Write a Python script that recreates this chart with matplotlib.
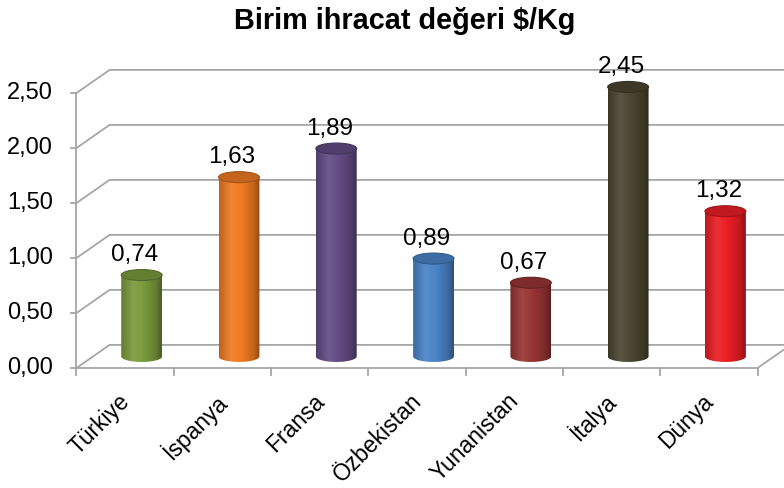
import numpy as np
import matplotlib
matplotlib.use("Agg")
import matplotlib.pyplot as plt
from matplotlib.colors import LinearSegmentedColormap, to_rgb
from matplotlib.patches import Ellipse, PathPatch
from matplotlib.path import Path

plt.rcParams["font.family"] = ["Liberation Sans", "DejaVu Sans"]

countries = ["Türkiye", "İspanya", "Fransa", "Özbekistan", "Yunanistan", "İtalya", "Dünya"]
values = [0.74, 1.63, 1.89, 0.89, 0.67, 2.45, 1.32]
value_labels = ["0,74", "1,63", "1,89", "0,89", "0,67", "2,45", "1,32"]
colors = ["#7a9b3c", "#f07a22", "#634c84", "#4a84c8", "#983434", "#4b4630", "#ea1e24"]
yticks = [0, 0.5, 1.0, 1.5, 2.0, 2.5]
ytick_labels = ["0,00", "0,50", "1,00", "1,50", "2,00", "2,50"]
title = "Birim ihracat değeri $/Kg"

# depth offset of the back wall, in data units
DX, DY = 0.34, 0.21
GRID = "#a6a6a6"


def shade(c, f):
    r, g, b = to_rgb(c)
    if f < 1:
        return (r * f, g * f, b * f)
    f = f - 1
    return (r + (1 - r) * f, g + (1 - g) * f, b + (1 - b) * f)


def cylinder(ax, cx, y0, h, color, w=0.21, e=0.05):
    t = np.linspace(np.pi, 2 * np.pi, 60)
    bottom = np.column_stack([cx + w * np.cos(t), y0 + e * np.sin(t)])
    verts = np.vstack([[cx - w, y0 + h], bottom, [cx + w, y0 + h], [cx - w, y0 + h]])
    codes = [Path.MOVETO] + [Path.LINETO] * (len(verts) - 2) + [Path.CLOSEPOLY]
    body = PathPatch(Path(verts, codes), facecolor="none", edgecolor="none")
    ax.add_patch(body)
    cmap = LinearSegmentedColormap.from_list(
        "cyl", [(0, shade(color, 0.8)), (0.3, shade(color, 1.08)),
                (0.55, shade(color, 1.0)), (0.85, shade(color, 0.82)), (1, shade(color, 0.6))])
    grad = np.linspace(0, 1, 256).reshape(1, -1)
    im = ax.imshow(grad, cmap=cmap, extent=[cx - w, cx + w, y0 - e, y0 + h],
                   aspect="auto", interpolation="bilinear", zorder=3)
    im.set_clip_path(body)
    ax.add_patch(Ellipse((cx, y0 + h), 2 * w, 2 * e, facecolor=shade(color, 0.82),
                         edgecolor=shade(color, 0.68), lw=0.8, zorder=4))


fig = plt.figure(figsize=(7.84, 4.88), dpi=100)
ax = fig.add_axes([0, 0, 1, 1])
ax.axis("off")

n = len(countries)
# walls and gridlines
for v in yticks:
    ax.plot([0, DX, n + DX + 0.5], [v, v + DY, v + DY], color=GRID, lw=1.3, zorder=1)
    ax.plot([-0.06, 0], [v, v], color=GRID, lw=1.3, zorder=1)
ax.plot([0, 0], [0, yticks[-1]], color=GRID, lw=1.3, zorder=1)
ax.plot([0, n, n + DX], [0, 0, DY], color=GRID, lw=1.3, zorder=2)
for i in range(n + 1):
    ax.plot([i, i], [0, -0.06], color=GRID, lw=1.3, zorder=1)

for v, lab in zip(yticks, ytick_labels):
    ax.text(-0.245, v, lab, ha="right", va="center", fontsize=17)

for i, (v, c, lab, name) in enumerate(zip(values, colors, value_labels, countries)):
    cx = i + 0.5 + DX / 2
    cylinder(ax, cx, DY / 2, v, c)
    ax.text(cx - 0.07, DY / 2 + v + 0.18, lab, ha="center", va="center", fontsize=17.5, zorder=5)
    ax.text(i + 0.51, -0.27, name, ha="right", va="center", rotation=45,
            rotation_mode="anchor", fontsize=16.5)

ax.text(3.377, 3.15, title, ha="center", va="center", fontsize=20.8, fontweight="bold")

ax.set_xlim(-76.5 / 97.29, (784 - 76.5) / 97.29)
ax.set_ylim(-120 / 110, (488 - 120) / 110)

fig.savefig("out.png", dpi=100)
plt.close(fig)
